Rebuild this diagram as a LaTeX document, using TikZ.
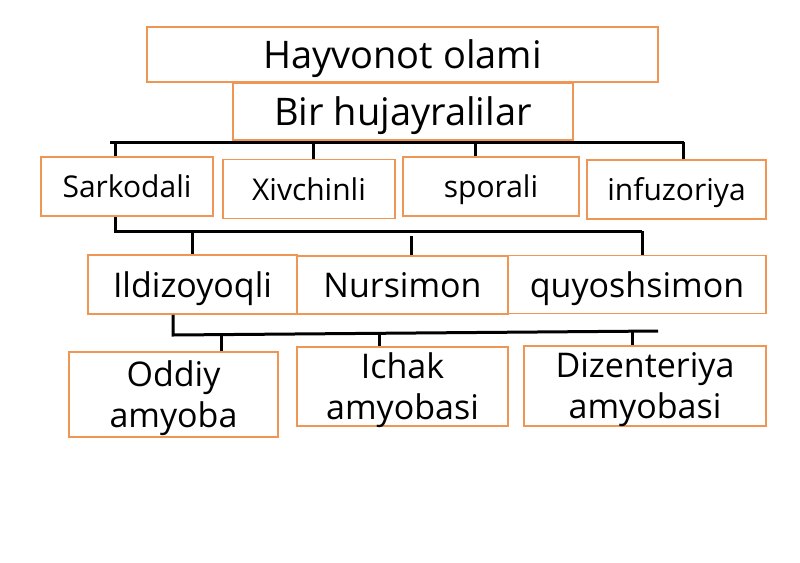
\documentclass[tikz,border=0pt]{standalone}
\usepackage{fontspec}
\setmainfont{Open Sans}
\definecolor{boxline}{RGB}{240,150,85}
\tikzset{
  box/.style={draw=boxline, line width=1.5pt, inner sep=0pt, align=center, text depth=0pt},
  link/.style={draw=black, line width=3pt},
  big/.style={font=\fontsize{38}{42}\selectfont},
  mid/.style={font=\fontsize{30}{36}\selectfont},
  low/.style={font=\fontsize{34}{41}\selectfont},
}
\begin{document}
\begin{tikzpicture}[x=1pt,y=-1pt]
        \useasboundingbox (0,0) rectangle (800,562);

        % Draw top boxes
        \node[box,big,minimum width=511,minimum height=55] (olam) at (402.5,54.5) {Hayvonot olami};
        \node[box,big,minimum width=340,minimum height=57] (birh) at (403,111.5) {Bir hujayralilar};

        % Draw classes
        \node[box,mid,minimum width=172,minimum height=59] (sark) at (127,186.5) {Sarkodali};
        \node[box,mid,minimum width=172,minimum height=59] (xivc) at (309,189) {Xivchinli};
        \node[box,mid,minimum width=176,minimum height=59] (spor) at (491,186.5) {sporali};
        \node[box,mid,minimum width=179,minimum height=59] (infu) at (676.5,189.5) {infuzoriya};

        % Draw Sarkodali groups
        \node[box,low,minimum width=209,minimum height=59] (ildi) at (192.5,284.5) {Ildizoyoqli};
        \node[box,low,minimum width=211,minimum height=58] (nurs) at (402.5,285) {Nursimon};
        \node[box,low,minimum width=258,minimum height=58] (quyo) at (637,284.5) {quyoshsimon};

        % Draw amoebae
        \node[box,low,minimum width=209,minimum height=85] (oddi) at (173.5,394.5) {Oddiy\\amyoba};
        \node[box,low,minimum width=211,minimum height=79] (icha) at (402.5,386.5) {Ichak\\amyobasi};
        \node[box,low,minimum width=242,minimum height=80] (dize) at (645,386) {Dizenteriya\\amyobasi};

        % First bracket
        \coordinate (b1l) at (110,142);
        \coordinate (b1r) at (684,142);
        \draw[link] (b1l) -- (b1r);
        \foreach \x/\n in {115/sark,313/xivc,475/spor,683/infu}
           {
                \coordinate (t\n) at (\x,142);
                \draw[link] (t\n) -- (t\n |- \n.north);
           }

        % Second bracket
        \coordinate (b2l) at (115,231);
        \coordinate (b2r) at (642,231);
        \draw[link] (b2l |- sark.south) -- (b2l) -- (b2r);
        \foreach \x/\y/\n in {192/231/ildi,411/236/nurs,642/231/quyo}
           {
                \coordinate (t\n) at (\x,\y);
                \draw[link] (t\n) -- (t\n |- \n.north);
           }

        % Third bracket
        \coordinate (b3l) at (173,335);
        \coordinate (b3r) at (658,331);
        \draw[link] (b3l |- ildi.south) -- (b3l) -- (b3r);
        \foreach \x/\y/\n in {221/335/oddi,379/332/icha,632/332/dize}
           {
                \coordinate (t\n) at (\x,\y);
                \draw[link] (t\n) -- (t\n |- \n.north);
           }
\end{tikzpicture}
\end{document}
